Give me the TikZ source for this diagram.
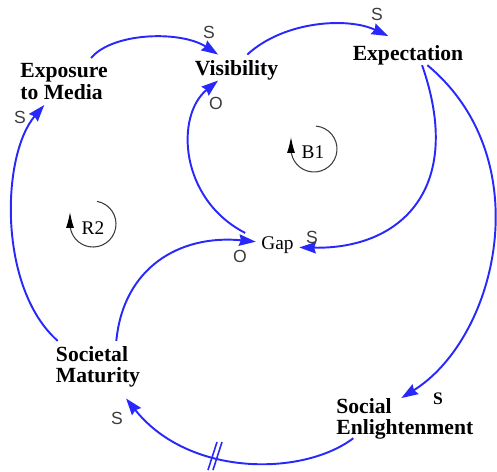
\documentclass[tikz,border=0pt]{standalone}
\usepackage{fontspec}
\setmainfont{Liberation Serif}
\newfontfamily\polfont{Liberation Sans}
\usetikzlibrary{arrows.meta}
\definecolor{linkblue}{RGB}{40,40,250}
\definecolor{markgray}{RGB}{60,60,60}

\begin{document}
\begin{tikzpicture}[x=0.02cm, y=-0.02cm,
	var/.style={inner sep=3pt, align=left, font=\bfseries\fontsize{12.3}{12.2}\selectfont},
	link/.style={draw=linkblue, line width=1.1pt, -{Stealth[length=9.5pt,width=6.5pt,inset=1pt]}},
	pol/.style={inner sep=0pt, text=markgray, font=\polfont\fontsize{10}{10}\selectfont},
	loopmark/.style={draw=markgray, line width=0.6pt, -{Latex[length=9pt,width=4.5pt,color=black]}},
	loopname/.style={inner sep=0pt, font=\fontsize{11}{11}\selectfont}]
	
	\useasboundingbox (0,0) rectangle (497,471);
	
	% variables
	\node[var] (expo)    at (64,81.5)  {Exposure\\to Media};
	\node[var] (visib)   at (236.5,70) {Visibility};
	\node[var] (expect)  at (408,55)   {Expectation};
	\node[var, font=\fontsize{11}{11}\selectfont] (gap) at (277.5,245.5) {Gap};
	\node[var] (matur)   at (98,367)   {Societal\\Maturity};
	\node[var] (enlight) at (404.8,419) {Social\\Enlightenment};
	
	% causal links
	\draw[link] (expo.41) .. controls +(22,-26) and +(-37,-24) .. (visib.140);
	\draw[link] (visib.55) .. controls +(37,-34) and +(-40,-19) .. ([yshift=2pt]expect.142);
	\draw[link] ([xshift=8pt,yshift=3pt]expect.south) .. controls +(43,123) and +(102,2) .. (gap.-5);
	\draw[link] ([xshift=11pt,yshift=3pt]expect.south) .. controls +(113,94) and +(96,-60) .. ([xshift=-2pt,yshift=-3pt]enlight.north);
	\draw[link] ([yshift=4pt]enlight.207) .. controls +(-50,38) and +(63,79) .. ([yshift=-3pt]matur.-43);
	\draw[link] (matur.147) .. controls +(-60,-53) and +(-43,50) .. (expo.230);
	\draw[link] (matur.55) .. controls +(7,-73) and +(-76.5,-7.3) .. (gap.170);
	\draw[link] ([xshift=-6pt]gap.150) .. controls +(-66,-34) and +(-43,35) .. ([xshift=-10.5pt,yshift=2.8pt]visib.south);
	
	% delay mark
	\draw[linkblue, line width=0.9pt] (208,470) -- (217,442);
	\draw[linkblue, line width=0.9pt] (213,470) -- (222,442);
	
	% polarities
	\node[pol] (p1) at (209,32)  {S};
	\node[pol] (p2) at (377,14)  {S};
	\node[pol] (p3) at (216,103) {O};
	\node[pol] (p4) at (312,237) {S};
	\node[pol] (p5) at (240,256) {O};
	\node[pol] (p6) at (20,117)  {S};
	\node[pol, text=black, font=\bfseries\fontsize{10}{10}\selectfont] (p7) at (438,399) {S};
	\node[pol] (p8) at (117,418) {S};
	
	% loop markers
	\draw[loopmark] (314,149) ++(-85:23) arc[start angle=-85, end angle=180, radius=23] -- ++(0,-12);
	\node[loopname] (b1) at (313,152) {B1};
	\draw[loopmark] (93,224) ++(-80:23) arc[start angle=-80, end angle=180, radius=23] -- ++(0,-12);
	\node[loopname] (r2) at (93,228) {R2};
	
\end{tikzpicture}
\end{document}
